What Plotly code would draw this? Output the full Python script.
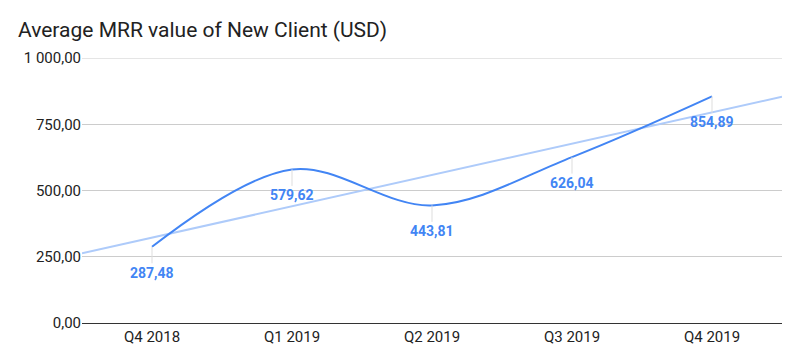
import numpy as np
import plotly.graph_objects as go

categories = ["Q4 2018", "Q1 2019", "Q2 2019", "Q3 2019", "Q4 2019"]
values = [287.48, 579.62, 443.81, 626.04, 854.89]
label_texts = ["287,48", "579,62", "443,81", "626,04", "854,89"]
y_tickvals = [0, 250, 500, 750, 1000]
y_ticktext = ["0,00", "250,00", "500,00", "750,00", "1 000,00"]

idx = np.arange(len(values))
slope, intercept = np.polyfit(idx, values, 1)
trend_x = np.array([-0.5, len(values) - 0.5])
trend_y = slope * trend_x + intercept

W, H = 792, 356  # page adds 8px body margin

fig = go.Figure()
fig.add_trace(go.Scatter(
    x=trend_x, y=trend_y, mode="lines",
    line=dict(color="#aecbfa", width=2), hoverinfo="skip", showlegend=False,
))
fig.add_trace(go.Scatter(
    x=idx, y=values, mode="lines",
    line=dict(color="#4285F4", width=2, shape="spline", smoothing=1),
    showlegend=False,
))

for i, (v, t) in enumerate(zip(values, label_texts)):
    fig.add_annotation(
        x=i, y=v, text=t, showarrow=True, arrowhead=0, arrowwidth=1,
        arrowcolor="#dddddd", ax=0, ay=26, standoff=0,
        font=dict(family="Roboto", size=14, color="#4285F4", weight="bold"),
        yanchor="middle",
    )

# top gridline (plotly omits gridline at the range edge)
fig.add_shape(type="line", xref="paper", x0=0, x1=1, yref="y",
              y0=y_tickvals[-1], y1=y_tickvals[-1],
              line=dict(color="#cccccc", width=1), layer="below")

fig.update_layout(
    width=W, height=H,
    margin=dict(l=74, r=18, t=50, b=41),
    paper_bgcolor="white", plot_bgcolor="white",
    font=dict(family="Roboto", size=15, color="#222222"),
    title=dict(text="Average MRR value of New Client (USD)",
               x=10 / W, xref="container", xanchor="left",
               y=1 - 22 / H, yref="container", yanchor="middle",
               font=dict(family="Roboto", size=21, color="#222222")),
)

fig.update_xaxes(
    range=[-0.5, len(values) - 0.5], tickvals=idx, ticktext=categories,
    showgrid=False, zeroline=False, showline=True, linecolor="#333333", linewidth=1,
    ticks="", tickfont=dict(size=15, color="#222222"),
)
fig.update_yaxes(
    range=[0, 1000], tickvals=y_tickvals, ticktext=y_ticktext,
    showgrid=True, gridcolor="#cccccc", gridwidth=1, zeroline=False,
    ticks="", ticklen=0, tickfont=dict(size=15, color="#222222"),
)

fig.write_html("out.html")
